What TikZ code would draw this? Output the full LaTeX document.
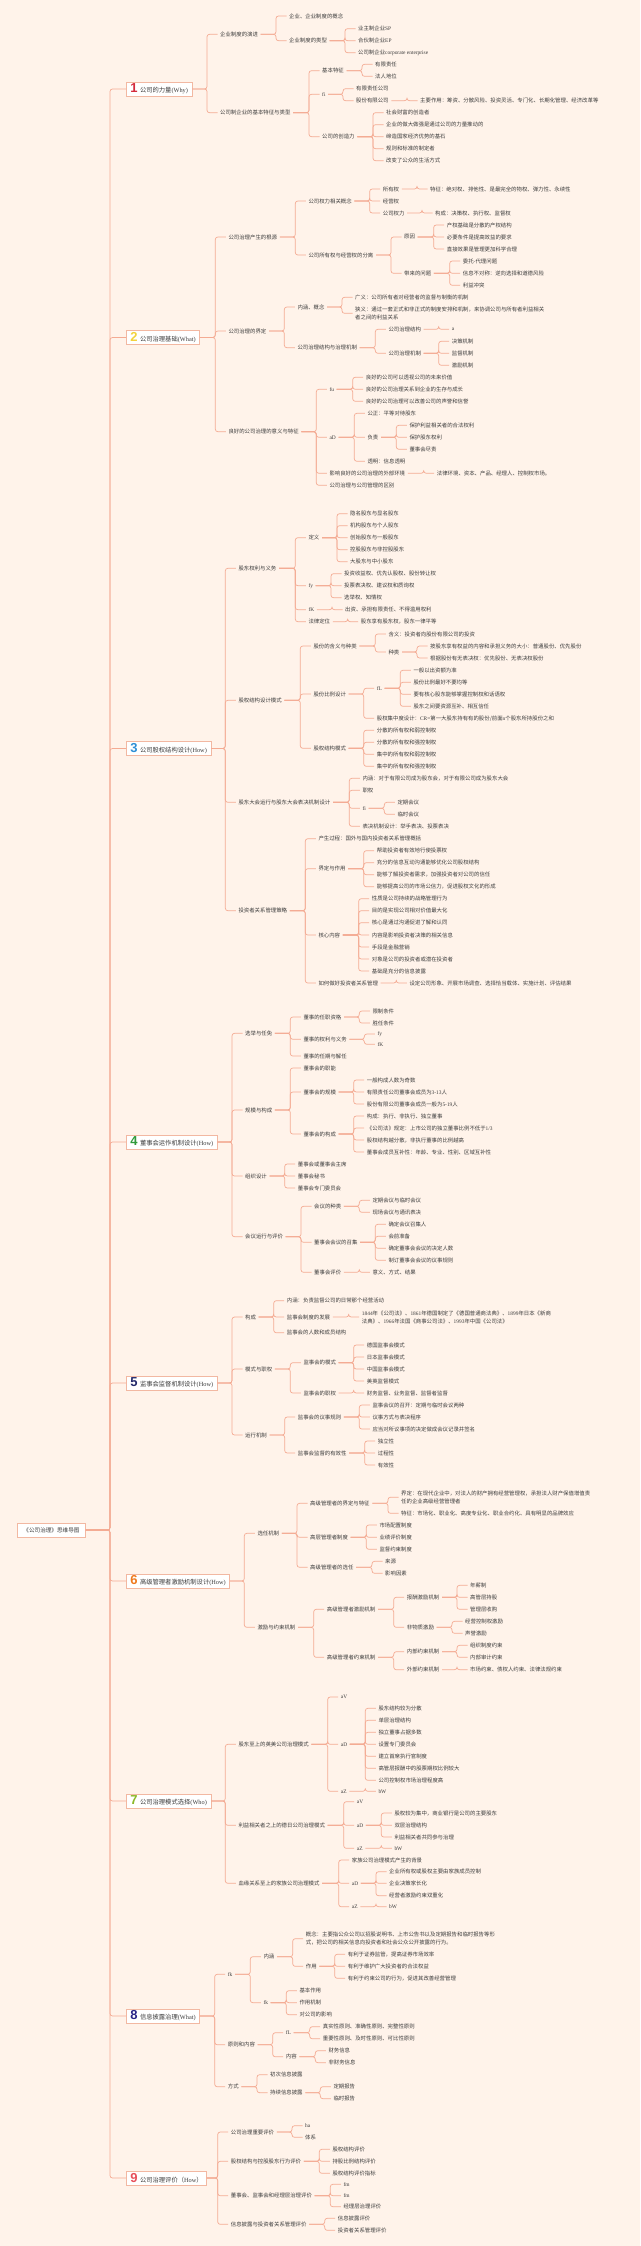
\documentclass[tikz,border=0pt]{standalone}
\usepackage{fontspec}
\setmainfont{Noto Sans CJK SC}
\newfontfamily\lat{Liberation Serif}
\newfontfamily\numf{Liberation Sans}
\definecolor{bg}{HTML}{FFF3EA}
\definecolor{linec}{HTML}{F4AB93}
\definecolor{boxc}{HTML}{F2B8A2}
\definecolor{txt}{HTML}{3C3C3C}
\definecolor{c1}{HTML}{D42A3C}
\definecolor{c2}{HTML}{F3D23C}
\definecolor{c3}{HTML}{2E8FD6}
\definecolor{c4}{HTML}{2F9A3A}
\definecolor{c5}{HTML}{23296B}
\definecolor{c6}{HTML}{EF7A1E}
\definecolor{c7}{HTML}{8CB92A}
\definecolor{c8}{HTML}{2B2688}
\definecolor{c9}{HTML}{E8505B}
\newcommand\numb[2]{\textcolor{#1}{\numf\bfseries\fontsize{13}{13}\selectfont #2}\hspace{2.5pt}}
\newcommand\kids[3][10.5]{\foreach \ch in {#3}{\draw[conn] (#2.east) -| ([xshift=-#1pt]\ch.west) -- (\ch.west);}}
\tikzset{
  t/.style={anchor=west, xshift=-2.5pt, inner xsep=2.5pt, inner ysep=1pt, text=txt, font=\fontsize{5.4}{8}\selectfont},
  l1/.style={anchor=west, draw=boxc, fill=white, line width=0.6pt, inner xsep=4pt, inner ysep=1pt, minimum height=14pt, text=txt, font=\fontsize{6.3}{8}\selectfont},
  rootbox/.style={draw=boxc, fill=white, line width=0.6pt, inner xsep=6pt, inner ysep=1pt, minimum height=14pt, text=txt, font=\fontsize{5.6}{8}\selectfont},
  conn/.style={draw=linec, line width=0.7pt, rounded corners=2.5pt}
}
\begin{document}
\begin{tikzpicture}[x=1pt,y=-1pt]
\useasboundingbox (0,0) rectangle (640,2246);
\fill[bg] (0,0) rectangle (640,2246);
% root and level 1
\node[rootbox] (root) at (51.5,1530) {《公司治理》思维导图};
\node[l1] (n1) at (126,89) {\numb{c1}{1}公司的力量{\lat(Why)}};
\node[l1] (n2) at (126,337.5) {\numb{c2}{2}公司治理基础{\lat(What)}};
\node[l1] (n3) at (126,748.5) {\numb{c3}{3}公司股权结构设计{\lat(How)}};
\node[l1] (n4) at (126,1142) {\numb{c4}{4}董事会运作机制设计{\lat(How)}};
\node[l1] (n5) at (126,1383) {\numb{c5}{5}监事会监督机制设计{\lat(How)}};
\node[l1] (n6) at (126,1581) {\numb{c6}{6}高级管理者激励机制设计{\lat(How)}};
\node[l1] (n7) at (126,1801) {\numb{c7}{7}公司治理模式选择{\lat(Who)}};
\node[l1] (n8) at (126,2016) {\numb{c8}{8}信息披露治理{\lat(What)}};
\node[l1] (n9) at (126,2178) {\numb{c9}{9}公司治理评价（{\lat How}）};
% branch 1
\node[t] (a1) at (220,34.3) {企业制度的演进};
\node[t] (a11) at (289,16) {企业、企业制度的概念};
\node[t] (a12) at (289,40.7) {企业制度的类型};
\node[t] (a121) at (358,28.7) {业主制企业{\lat SP}};
\node[t] (a122) at (358,40.7) {合伙制企业{\lat EP}};
\node[t] (a123) at (358,52.7) {公司制企业{\lat corporate enterprise}};
\node[t] (a2) at (220,112.7) {公司制企业的基本特征与类型};
\node[t] (a21) at (322,70.7) {基本特征};
\node[t] (a211) at (375,64.3) {有限责任};
\node[t] (a212) at (375,76.3) {法人地位};
\node[t] (a22) at (322,94.3) {\lat fi};
\node[t] (a221) at (356,88.7) {有限责任公司};
\node[t] (a222) at (356,100.7) {股份有限公司};
\node[t] (a2221) at (420,100.7) {主要作用：筹资、分散风险、投资灵活、专门化、长期化管理、经济改革等};
\node[t] (a23) at (322,136.7) {公司的创造力};
\node[t] (a231) at (386,112.7) {社会财富的创造者};
\node[t] (a232) at (386,124.7) {企业的做大做强是通过公司的力量推动的};
\node[t] (a233) at (386,136.7) {缔造国家经济优势的基石};
\node[t] (a234) at (386,148.7) {规则和标准的制定者};
\node[t] (a235) at (386,160.7) {改变了公众的生活方式};
% branch 2
\node[t] (b1) at (228.3,237) {公司治理产生的根源};
\node[t] (b11) at (308.3,201) {公司权力相关概念};
\node[t] (b111) at (382.7,189) {所有权};
\node[t] (b1111) at (430,189) {特征：绝对权、排他性、是最完全的物权、弹力性、永续性};
\node[t] (b112) at (382.7,201) {经营权};
\node[t] (b113) at (382.7,213) {公司权力};
\node[t] (b1131) at (435,213) {构成：决策权、执行权、监督权};
\node[t] (b12) at (308.3,255) {公司所有权与经营权的分离};
\node[t] (b121) at (404,237) {原因};
\node[t] (b1211) at (446.7,225) {产权基础是分散的产权结构};
\node[t] (b1212) at (446.7,237) {必要条件是提高效益的要求};
\node[t] (b1213) at (446.7,249) {直接效果是管理更加科学合理};
\node[t] (b122) at (404,273.3) {带来的问题};
\node[t] (b1221) at (462.7,261) {委托-代理问题};
\node[t] (b1222) at (462.7,273.3) {信息不对称：逆向选择和道德风险};
\node[t] (b1223) at (462.7,285.3) {利益冲突};
\node[t] (b2) at (228.3,331) {公司治理的界定};
\node[t] (b21) at (297.3,307) {内涵、概念};
\node[t] (b211) at (355,297.3) {广义：公司所有者对经营者的监督与制衡的机制};
\node[t,align=left] (b212) at (355,313.3) {狭义：通过一套正式和非正式的制度安排和机制，来协调公司与所有者利益相关\\者之间的利益关系};
\node[t] (b22) at (297.3,347.7) {公司治理结构与治理机制};
\node[t] (b221) at (388.3,329.3) {公司治理结构};
\node[t] (b2211) at (451.7,329.3) {\lat a};
\node[t] (b222) at (388.3,353.3) {公司治理机制};
\node[t] (b2221) at (451.7,341.3) {决策机制};
\node[t] (b2222) at (451.7,353.3) {监督机制};
\node[t] (b2223) at (451.7,365.3) {激励机制};
\node[t] (b3) at (228.3,431.7) {良好的公司治理的意义与特征};
\node[t] (b31) at (329.3,389.3) {\lat fu};
\node[t] (b311) at (365.7,377.3) {良好的公司可以透视公司的未来价值};
\node[t] (b312) at (365.7,389.3) {良好的公司治理关系到企业的生存与成长};
\node[t] (b313) at (365.7,401.3) {良好的公司治理可以改善公司的声誉和信誉};
\node[t] (b32) at (329.3,437.3) {\lat aD};
\node[t] (b321) at (367.3,413.3) {公正：平等对待股东};
\node[t] (b322) at (367.3,437.3) {负责};
\node[t] (b3221) at (409.3,425.3) {保护利益相关者的合法权利};
\node[t] (b3222) at (409.3,437.3) {保护股东权利};
\node[t] (b3223) at (409.3,449.3) {董事会尽责};
\node[t] (b323) at (367.3,461.3) {透明：信息透明};
\node[t] (b33) at (329.3,473.3) {影响良好的公司治理的外部环境};
\node[t] (b331) at (436.7,473.3) {法律环境、资本、产品、经理人、控制权市场。};
\node[t] (b34) at (329.3,485.3) {公司治理与公司管理的区别};
% branch 3
\node[t] (c1) at (238.3,568.3) {股东权利与义务};
\node[t] (c11) at (308.3,537.7) {定义};
\node[t] (c111) at (350,513.7) {隐名股东与显名股东};
\node[t] (c112) at (350,525.7) {机构股东与个人股东};
\node[t] (c113) at (350,537.7) {创始股东与一般股东};
\node[t] (c114) at (350,549.7) {控股股东与非控股股东};
\node[t] (c115) at (350,561.7) {大股东与中小股东};
\node[t] (c12) at (308.3,585.7) {\lat fy};
\node[t] (c121) at (344,573.7) {投资收益权、优先认股权、股份转让权};
\node[t] (c122) at (344,585.7) {投票表决权、建议权和质询权};
\node[t] (c123) at (344,597.7) {选举权、知情权};
\node[t] (c13) at (308.3,609.7) {\lat fK};
\node[t] (c131) at (345,609.7) {出资、承担有限责任、不得滥用权利};
\node[t] (c14) at (308.3,621.7) {法律定位};
\node[t] (c141) at (360.7,621.7) {股东享有股东权，股东一律平等};
\node[t] (c2) at (238.3,700.3) {股权结构设计模式};
\node[t] (c21) at (313.3,646) {股份的含义与种类};
\node[t] (c211) at (388.3,634) {含义：投资者向股份有限公司的投资};
\node[t] (c212) at (388.3,652) {种类};
\node[t] (c2121) at (430,646) {按股东享有权益的内容和承担义务的大小：普通股份、优先股份};
\node[t] (c2122) at (430,658) {根据股份有无表决权：优先股份、无表决权股份};
\node[t] (c22) at (313.3,694) {股份比例设计};
\node[t] (c221) at (376.7,688.3) {\lat fL};
\node[t] (c2211) at (413.3,670.3) {一般以出资额为准};
\node[t] (c2212) at (413.3,682.3) {股份比例最好不要均等};
\node[t] (c2213) at (413.3,694.3) {要有核心股东能够掌握控制权和话语权};
\node[t] (c2214) at (413.3,706.3) {股东之间要资源互补、相互信任};
\node[t] (c222) at (376.7,718.3) {股权集中度设计：{\lat CR=}第一大股东持有有的股份/前面{\lat n}个股东所持股份之和};
\node[t] (c23) at (313.3,748.3) {股权结构模式};
\node[t] (c231) at (376.7,730.3) {分散的所有权和弱控制权};
\node[t] (c232) at (376.7,742.3) {分散的所有权和强控制权};
\node[t] (c233) at (376.7,754.3) {集中的所有权和弱控制权};
\node[t] (c234) at (376.7,766.3) {集中的所有权和强控制权};
\node[t] (c3) at (238.3,802.3) {股东大会运行与股东大会表决机制设计};
\node[t] (c31) at (362.3,778.3) {内涵：对于有限公司成为股东会，对于有限公司成为股东大会};
\node[t] (c32) at (362.3,790.3) {职权};
\node[t] (c33) at (362.3,808.3) {\lat fi};
\node[t] (c331) at (397.3,802.3) {定期会议};
\node[t] (c332) at (397.3,814.3) {临时会议};
\node[t] (c34) at (362.3,826.3) {表决机制设计：举手表决、投票表决};
\node[t] (c4) at (238.3,910.7) {投资者关系管理策略};
\node[t] (c41) at (318.3,838.7) {产生过程：国外与国内投资者关系管理概括};
\node[t] (c42) at (318.3,868.7) {界定与作用};
\node[t] (c421) at (376.7,850.7) {帮助投资者有效地行使投票权};
\node[t] (c422) at (376.7,862.7) {充分的信息互动沟通能够优化公司股权结构};
\node[t] (c423) at (376.7,874.7) {能够了解投资者需求，加强投资者对公司的信任};
\node[t] (c424) at (376.7,886.7) {能够提高公司的市场公信力，促进股权文化的形成};
\node[t] (c43) at (318.3,935) {核心内容};
\node[t] (c431) at (371.7,898.7) {性质是公司持续的战略管理行为};
\node[t] (c432) at (371.7,910.7) {目的是实现公司相对价值最大化};
\node[t] (c433) at (371.7,922.7) {核心是通过沟通促进了解和认同};
\node[t] (c434) at (371.7,935) {内容是影响投资者决策的相关信息};
\node[t] (c435) at (371.7,947) {手段是金融营销};
\node[t] (c436) at (371.7,959) {对象是公司的投资者或潜在投资者};
\node[t] (c437) at (371.7,971) {基础是充分的信息披露};
\node[t] (c44) at (318.3,983) {如何做好投资者关系管理};
\node[t] (c441) at (409.3,983) {设定公司形象、开展市场调查、选择恰当载体、实施计划、评估结果};
% branch 4
\node[t] (d1) at (245,1033.3) {选举与任免};
\node[t] (d11) at (303.3,1017) {董事的任职资格};
\node[t] (d111) at (372.3,1011) {限制条件};
\node[t] (d112) at (372.3,1023) {胜任条件};
\node[t] (d12) at (303.3,1039.3) {董事的权利与义务};
\node[t] (d121) at (377.3,1034) {\lat fy};
\node[t] (d122) at (377.3,1044.3) {\lat fK};
\node[t] (d13) at (303.3,1056) {董事的任期与解任};
\node[t] (d2) at (245,1110) {规模与构成};
\node[t] (d21) at (303.3,1068) {董事会的职能};
\node[t] (d22) at (303.3,1092) {董事会的规模};
\node[t] (d221) at (366.7,1080) {一般构成人数为奇数};
\node[t] (d222) at (366.7,1092) {有限责任公司董事会成员为{\lat 3-13}人};
\node[t] (d223) at (366.7,1104) {股份有限公司董事会成员一般为{\lat 5-19}人};
\node[t] (d23) at (303.3,1134) {董事会的构成};
\node[t] (d231) at (366.7,1116) {构成：执行、非执行、独立董事};
\node[t] (d232) at (366.7,1128) {《公司法》规定：上市公司的独立董事比例不低于{\lat 1/3}};
\node[t] (d233) at (366.7,1140) {股权结构越分散，非执行董事的比例越高};
\node[t] (d234) at (366.7,1152) {董事会成员互补性：年龄、专业、性别、区域互补性};
\node[t] (d3) at (245,1176) {组织设计};
\node[t] (d31) at (297.7,1164) {董事会或董事会主席};
\node[t] (d32) at (297.7,1176) {董事会秘书};
\node[t] (d33) at (297.7,1188) {董事会专门委员会};
\node[t] (d4) at (245,1236.7) {会议运行与评价};
\node[t] (d41) at (314,1206.3) {会议的种类};
\node[t] (d411) at (372.3,1200.3) {定期会议与临时会议};
\node[t] (d412) at (372.3,1212.3) {现场会议与通讯表决};
\node[t] (d42) at (314,1242.3) {董事会会议的召集};
\node[t] (d421) at (388.3,1224.3) {确定会议召集人};
\node[t] (d422) at (388.3,1236.3) {会前准备};
\node[t] (d423) at (388.3,1248.3) {确定董事会会议的决定人数};
\node[t] (d424) at (388.3,1260.3) {制订董事会会议的议事规则};
\node[t] (d43) at (314,1272.3) {董事会评价};
\node[t] (d431) at (372.3,1272.3) {意义、方式、结果};
% branch 5
\node[t] (e1) at (245,1317) {构成};
\node[t] (e11) at (286.7,1300.7) {内涵：负责监督公司的日常那个经营活动};
\node[t] (e12) at (286.7,1317) {监事会制度的发展};
\node[t,align=left] (e121) at (361.7,1317) {{\lat 1844}年《公司法》、{\lat 1861}年德国制定了《德国普通商法典》、{\lat 1899}年日本《新商\\法典》、{\lat 1966}年法国《商事公司法》、{\lat 1993}年中国《公司法》};
\node[t] (e13) at (286.7,1332.7) {监事会的人数和成员结构};
\node[t] (e2) at (245,1369) {模式与职权};
\node[t] (e21) at (303.3,1362.7) {监事会的模式};
\node[t] (e211) at (366.7,1345) {德国监事会模式};
\node[t] (e212) at (366.7,1357) {日本监事会模式};
\node[t] (e213) at (366.7,1369) {中国监事会模式};
\node[t] (e214) at (366.7,1381) {美英监督模式};
\node[t] (e22) at (303.3,1393) {监事会的职权};
\node[t] (e221) at (366.7,1393) {财务监督、业务监督、监督者监督};
\node[t] (e3) at (245,1435) {运行机制};
\node[t] (e31) at (297.7,1417) {监事会的议事规则};
\node[t] (e311) at (372.3,1405) {监事会议的召开：定期与临时会议两种};
\node[t] (e312) at (372.3,1417) {议事方式与表决程序};
\node[t] (e313) at (372.3,1429) {应当对所议事项的决定做成会议记录并签名};
\node[t] (e32) at (297.7,1453) {监事会监督的有效性};
\node[t] (e321) at (377.7,1441) {独立性};
\node[t] (e322) at (377.7,1453) {过程性};
\node[t] (e323) at (377.7,1465) {有效性};
% branch 6
\node[t] (f1) at (257.3,1533.3) {选任机制};
\node[t] (f11) at (310,1503.3) {高级管理者的界定与特征};
\node[t,align=left] (f111) at (401,1497.2) {界定：在现代企业中，对法人的财产拥有经营管理权，承担法人财产保值增值责\\任的企业高级经营管理者};
\node[t] (f112) at (401,1513.3) {特征：市场化、职业化、高度专业化、职业合约化、具有明显的品牌效应};
\node[t] (f12) at (310,1537.3) {高层管理者制度};
\node[t] (f121) at (379.3,1525) {市场配置制度};
\node[t] (f122) at (379.3,1537.3) {业绩评价制度};
\node[t] (f123) at (379.3,1549.3) {监督约束制度};
\node[t] (f13) at (310,1567.3) {高级管理者的选任};
\node[t] (f131) at (385,1561.3) {来源};
\node[t] (f132) at (385,1573.3) {影响因素};
\node[t] (f2) at (257.3,1627.3) {激励与约束机制};
\node[t] (f21) at (326.7,1609.3) {高级管理者激励机制};
\node[t] (f211) at (406.7,1597.3) {报酬激励机制};
\node[t] (f2111) at (470,1585.3) {年薪制};
\node[t] (f2112) at (470,1597.3) {高管层持股};
\node[t] (f2113) at (470,1609.3) {管理层收购};
\node[t] (f212) at (406.7,1627.3) {非物质激励};
\node[t] (f2121) at (465,1621.3) {经营控制权激励};
\node[t] (f2122) at (465,1633.3) {声誉激励};
\node[t] (f22) at (326.7,1657.3) {高级管理者约束机制};
\node[t] (f221) at (406.7,1651.7) {内部约束机制};
\node[t] (f2211) at (470,1645.3) {组织制度约束};
\node[t] (f2212) at (470,1657.3) {内部审计约束};
\node[t] (f222) at (406.7,1669.7) {外部约束机制};
\node[t] (f2221) at (470,1669.7) {市场约束、债权人约束、法律法规约束};
% branch 7
\node[t] (g1) at (238.3,1744.3) {股东至上的英美公司治理模式};
\node[t] (g11) at (340.7,1697) {\lat aV};
\node[t] (g12) at (340.7,1744.3) {\lat aD};
\node[t] (g121) at (378.3,1708.3) {股东结构较为分散};
\node[t] (g122) at (378.3,1720.3) {单层治理结构};
\node[t] (g123) at (378.3,1732.3) {独立董事占据多数};
\node[t] (g124) at (378.3,1744.3) {设置专门委员会};
\node[t] (g125) at (378.3,1756.3) {建立首席执行官制度};
\node[t] (g126) at (378.3,1768.3) {高管层报酬中的股票期权比例较大};
\node[t] (g127) at (378.3,1780.3) {公司控制权市场治理程度高};
\node[t] (g13) at (340.7,1791.3) {\lat aZ};
\node[t] (g131) at (378.3,1791.3) {\lat bW};
\node[t] (g2) at (238.3,1825.3) {利益相关者之上的德日公司治理模式};
\node[t] (g21) at (356.7,1801.7) {\lat aV};
\node[t] (g22) at (356.7,1825.3) {\lat aD};
\node[t] (g221) at (394.3,1813) {股权较为集中，商业银行是公司的主要股东};
\node[t] (g222) at (394.3,1825.3) {双层治理结构};
\node[t] (g223) at (394.3,1837) {利益相关者共同参与治理};
\node[t] (g23) at (356.7,1848.3) {\lat aZ};
\node[t] (g231) at (394.3,1848.3) {\lat bW};
\node[t] (g3) at (238.3,1883.3) {血缘关系至上的家族公司治理模式};
\node[t] (g31) at (351.7,1860) {家族公司治理模式产生的背景};
\node[t] (g32) at (351.7,1883.3) {\lat aD};
\node[t] (g321) at (389,1871.7) {企业所有权或股权主要由家族成员控制};
\node[t] (g322) at (389,1883.3) {企业决策家长化};
\node[t] (g323) at (389,1895.7) {经营者激励约束双重化};
\node[t] (g33) at (351.7,1906.7) {\lat aZ};
\node[t] (g331) at (389,1906.7) {\lat bW};
% branch 8
\node[t] (h1) at (227.7,1974.3) {\lat fk};
\node[t] (h11) at (263.3,1956.7) {内涵};
\node[t,align=left] (h111) at (305.7,1938.7) {概念：主要指公众公司以招股说明书、上市公告书以及定期报告和临时报告等形\\式，把公司的相关信息向投资者和社会公众公开披露的行为。};
\node[t] (h112) at (305.7,1966.3) {作用};
\node[t] (h1121) at (347.7,1954.3) {有利于证券监管，提高证券市场效率};
\node[t] (h1122) at (347.7,1966.3) {有利于维护广大投资者的合法权益};
\node[t] (h1123) at (347.7,1978.3) {有利于约束公司的行为，促进其改善经营管理};
\node[t] (h12) at (263.3,2002.7) {\lat fk};
\node[t] (h121) at (299.3,1990.7) {基本作用};
\node[t] (h122) at (299.3,2002.7) {作用机制};
\node[t] (h123) at (299.3,2014.7) {对公司的影响};
\node[t] (h2) at (227.7,2044.7) {原则和内容};
\node[t] (h21) at (285.7,2032.7) {\lat fL};
\node[t] (h211) at (322.7,2026.7) {真实性原则、准确性原则、完整性原则};
\node[t] (h212) at (322.7,2038.7) {重要性原则、及时性原则、可比性原则};
\node[t] (h22) at (285.7,2056.7) {内容};
\node[t] (h221) at (328.3,2050.7) {财务信息};
\node[t] (h222) at (328.3,2062.7) {非财务信息};
\node[t] (h3) at (227.7,2086.7) {方式};
\node[t] (h31) at (270,2074.7) {初次信息披露};
\node[t] (h32) at (270,2092.7) {持续信息披露};
\node[t] (h321) at (333.3,2086.7) {定期报告};
\node[t] (h322) at (333.3,2098.7) {临时报告};
% branch 9
\node[t] (i1) at (230.7,2132) {公司治理重要评价};
\node[t] (i11) at (305,2125.7) {\lat ha};
\node[t] (i12) at (305,2137.3) {体系};
\node[t] (i2) at (230.7,2161.3) {股权结构与控股股东行为评价};
\node[t] (i21) at (332.3,2149.3) {股权结构评价};
\node[t] (i22) at (332.3,2161.3) {持股比例结构评价};
\node[t] (i23) at (332.3,2173.3) {股权结构评价指标};
\node[t] (i3) at (230.7,2195.7) {董事会、监事会和经理层治理评价};
\node[t] (i31) at (343.3,2184.3) {\lat fm};
\node[t] (i32) at (343.3,2195.7) {\lat fm};
\node[t] (i33) at (343.3,2206.7) {经理层治理评价};
\node[t] (i4) at (230.7,2224.3) {信息披露与投资者关系管理评价};
\node[t] (i41) at (337.7,2218.3) {信息披露评价};
\node[t] (i42) at (337.7,2230.3) {投资者关系管理评价};
% connectors
\kids[16]{root}{n1,n2,n3,n4,n5,n6,n7,n8,n9}
\kids{n1}{a1,a2}
\kids{a1}{a11,a12}
\kids{a12}{a121,a122,a123}
\kids{a2}{a21,a22,a23}
\kids{a21}{a211,a212}
\kids{a22}{a221,a222}
\kids{a222}{a2221}
\kids{a23}{a231,a232,a233,a234,a235}
\kids{n2}{b1,b2,b3}
\kids{b1}{b11,b12}
\kids{b11}{b111,b112,b113}
\kids{b111}{b1111}
\kids{b113}{b1131}
\kids{b12}{b121,b122}
\kids{b121}{b1211,b1212,b1213}
\kids{b122}{b1221,b1222,b1223}
\kids{b2}{b21,b22}
\kids{b21}{b211,b212}
\kids{b22}{b221,b222}
\kids{b221}{b2211}
\kids{b222}{b2221,b2222,b2223}
\kids{b3}{b31,b32,b33,b34}
\kids{b31}{b311,b312,b313}
\kids{b32}{b321,b322,b323}
\kids{b322}{b3221,b3222,b3223}
\kids{b33}{b331}
\kids{n3}{c1,c2,c3,c4}
\kids{c1}{c11,c12,c13,c14}
\kids{c11}{c111,c112,c113,c114,c115}
\kids{c12}{c121,c122,c123}
\kids{c13}{c131}
\kids{c14}{c141}
\kids{c2}{c21,c22,c23}
\kids{c21}{c211,c212}
\kids{c212}{c2121,c2122}
\kids{c22}{c221,c222}
\kids{c221}{c2211,c2212,c2213,c2214}
\kids{c23}{c231,c232,c233,c234}
\kids{c3}{c31,c32,c33,c34}
\kids{c33}{c331,c332}
\kids{c4}{c41,c42,c43,c44}
\kids{c42}{c421,c422,c423,c424}
\kids{c43}{c431,c432,c433,c434,c435,c436,c437}
\kids{c44}{c441}
\kids{n4}{d1,d2,d3,d4}
\kids{d1}{d11,d12,d13}
\kids{d11}{d111,d112}
\kids{d12}{d121,d122}
\kids{d2}{d21,d22,d23}
\kids{d22}{d221,d222,d223}
\kids{d23}{d231,d232,d233,d234}
\kids{d3}{d31,d32,d33}
\kids{d4}{d41,d42,d43}
\kids{d41}{d411,d412}
\kids{d42}{d421,d422,d423,d424}
\kids{d43}{d431}
\kids{n5}{e1,e2,e3}
\kids{e1}{e11,e12,e13}
\kids{e12}{e121}
\kids{e2}{e21,e22}
\kids{e21}{e211,e212,e213,e214}
\kids{e22}{e221}
\kids{e3}{e31,e32}
\kids{e31}{e311,e312,e313}
\kids{e32}{e321,e322,e323}
\kids{n6}{f1,f2}
\kids{f1}{f11,f12,f13}
\kids{f11}{f111,f112}
\kids{f12}{f121,f122,f123}
\kids{f13}{f131,f132}
\kids{f2}{f21,f22}
\kids{f21}{f211,f212}
\kids{f211}{f2111,f2112,f2113}
\kids{f212}{f2121,f2122}
\kids{f22}{f221,f222}
\kids{f221}{f2211,f2212}
\kids{f222}{f2221}
\kids{n7}{g1,g2,g3}
\kids{g1}{g11,g12,g13}
\kids{g12}{g121,g122,g123,g124,g125,g126,g127}
\kids{g13}{g131}
\kids{g2}{g21,g22,g23}
\kids{g22}{g221,g222,g223}
\kids{g23}{g231}
\kids{g3}{g31,g32,g33}
\kids{g32}{g321,g322,g323}
\kids{g33}{g331}
\kids{n8}{h1,h2,h3}
\kids{h1}{h11,h12}
\kids{h11}{h111,h112}
\kids{h112}{h1121,h1122,h1123}
\kids{h12}{h121,h122,h123}
\kids{h2}{h21,h22}
\kids{h21}{h211,h212}
\kids{h22}{h221,h222}
\kids{h3}{h31,h32}
\kids{h32}{h321,h322}
\kids{n9}{i1,i2,i3,i4}
\kids{i1}{i11,i12}
\kids{i2}{i21,i22,i23}
\kids{i3}{i31,i32,i33}
\kids{i4}{i41,i42}
\end{tikzpicture}
\end{document}
